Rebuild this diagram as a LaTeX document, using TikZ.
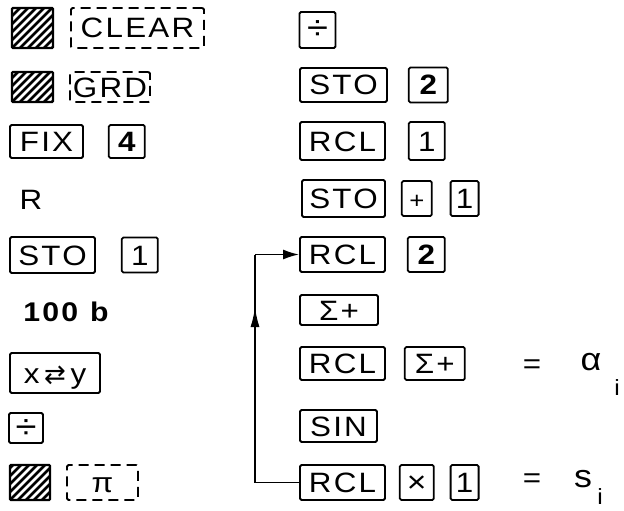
\documentclass[tikz,border=0pt]{standalone}
\usepackage{fontspec}
\setmainfont{Liberation Sans}
\newfontfamily\keyfont[FakeStretch=1.12,LetterSpace=8]{Liberation Sans}
\newfontfamily\symfont{DejaVu Sans}
\usetikzlibrary{arrows.meta,positioning}

\begin{document}
\begin{tikzpicture}[
  x=1pt,y=-1pt,
  node distance=20pt,
  key/.style={draw,line width=1.8pt,rounded corners=1.5pt,inner sep=0pt,minimum height=35pt,
              font=\fontsize{28}{28}\keyfont,text height=20pt,text depth=0pt},
  wkey/.style={key,minimum width=85pt},
  nkey/.style={key,minimum width=36pt},
  dkey/.style={key,dash pattern=on 10pt off 6pt},
  hatch/.style={draw,line width=2.2pt,rounded corners=1pt,inner sep=0pt,minimum width=41pt,
                path picture={\foreach \k in {-56,-48,...,56}
                  \draw[line width=2.6pt] ([xshift=\k pt]path picture bounding box.south west) -- ++(60pt,60pt);}},
  txt/.style={inner sep=0pt,font=\fontsize{28}{28}\keyfont},
  big/.style={inner sep=0pt,font=\fontsize{32}{32}\keyfont},
  sub/.style={inner sep=0pt,font=\fontsize{22}{22}\keyfont},
  line/.style={line width=1.8pt},
  arrow/.style={line,-{Latex[length=16pt,width=10pt]}},
  uparrow/.style={line,-{Latex[length=20pt,width=9pt]}}
]
  \useasboundingbox (0,0) rectangle (624,511);

  % left column
  \node[hatch,minimum height=40pt] (hclear) at (32.5,28) {};
  \node[dkey,minimum width=133pt,minimum height=40pt,right=16pt of hclear] (clear) {CLEAR};
  \node[hatch,minimum height=30pt] (hgrd) at (32.5,87) {};
  \node[dkey,minimum width=80pt,minimum height=30pt,right=15pt of hgrd] (grd) {GRD};
  \node[key,minimum width=73pt,minimum height=33pt] (fix) at (46.5,141.5) {FIX};
  \node[nkey,minimum height=33pt,right=24pt of fix] (four) {\bfseries 4};
  \node[txt] (r) at (31,200) {R};
  \node[wkey,minimum height=36pt] (sto) at (52.5,255) {STO};
  \node[nkey,right=25pt of sto] (one) {1};
  \node[txt,font=\fontsize{27}{27}\keyfont\bfseries] (hundred) at (66,312) {100\hspace{12pt}b};
  \node[key,minimum width=90pt,minimum height=40pt] (xy) at (55,373) {x\,{\symfont\fontsize{26}{26}\selectfont ⇄}\,y};
  \node[key,minimum width=34pt,minimum height=30pt] (divl) at (26,428) {\fontsize{34}{34}\selectfont ÷};
  \node[hatch,minimum width=40pt,minimum height=35pt] (hpi) at (30,482.5) {};
  \node[dkey,minimum width=71pt,right=15pt of hpi] (pi) {π};

  % right column
  \node[nkey,minimum height=36pt] (divr) at (317.5,30) {\fontsize{34}{34}\selectfont ÷};
  \node[wkey,minimum width=87pt,minimum height=34pt] (sto2) at (343.5,85) {STO};
  \node[nkey,minimum width=39pt,right=20pt of sto2] (two) {\bfseries 2};
  \node[wkey,minimum height=38pt] (rcl1) at (342.5,141) {RCL};
  \node[nkey,minimum height=38pt,right=22pt of rcl1] (rone) {1};
  \node[wkey,minimum width=83pt,minimum height=37pt] (sto3) at (343.5,198.5) {STO};
  \node[key,minimum width=30pt,right=15pt of sto3] (plus) {\fontsize{23}{23}\selectfont +};
  \node[key,minimum width=28pt,right=17pt of plus] (sone) {1};
  \node[wkey] (rcl2) at (342.5,254.5) {RCL};
  \node[nkey,minimum width=37pt,right=21pt of rcl2] (rtwo) {\bfseries 2};
  \node[key,minimum width=78pt,minimum height=30pt] (sum) at (339,310) {Σ+};
  \node[wkey,minimum height=33pt] (rcl3) at (342.5,363.5) {RCL};
  \node[key,minimum width=60pt,minimum height=33pt,right=18pt of rcl3] (sum2) {Σ+};
  \node[txt] (eqa) at (532,367) {=};
  \node[big] (alpha) at (591,362) {α};
  \node[sub] (ia) at (617,388) {i};
  \node[key,minimum width=77pt,minimum height=32pt] (sin) at (338.5,426) {SIN};
  \node[wkey] (rcl4) at (342.5,482.5) {RCL};
  \node[nkey,minimum width=34pt,right=13pt of rcl4] (times) {\fontsize{30}{30}\selectfont ×};
  \node[key,minimum width=28pt,right=15pt of times] (xone) {1};
  \node[txt] (eqs) at (532,481) {=};
  \node[big] (s) at (583,479) {s};
  \node[sub] (is) at (600,497) {i};

  % loop back
  \coordinate (loopx) at (255,0);
  \coordinate (lb) at (rcl4.west -| loopx);
  \coordinate (lt) at (rcl2.west -| loopx);
  \coordinate (lm) at (255,307);
  \draw[line] (rcl4.west) -- (lb) -- (lt);
  \draw[arrow] (lt) -- (rcl2.west);
  \draw[uparrow] (lb) -- (lm);
\end{tikzpicture}
\end{document}
